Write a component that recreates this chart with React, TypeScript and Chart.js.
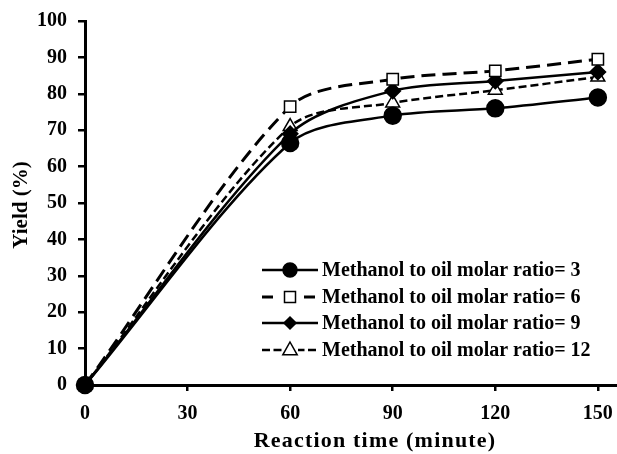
import React, { useEffect, useRef } from "react";
import { Chart, registerables } from "chart.js";

Chart.register(...registerables);

const times = [0, 60, 90, 120, 150];
const ratio3 = [0, 66.5, 74, 76, 79];
const ratio6 = [0, 76.5, 84, 86.3, 89.5];
const ratio9 = [0, 69, 80.8, 83.5, 86];
const ratio12 = [0, 71, 77.5, 81, 84.6];
const seriesLabels = [
  "Methanol to oil molar ratio= 3",
  "Methanol to oil molar ratio= 6",
  "Methanol to oil molar ratio= 9",
  "Methanol to oil molar ratio= 12",
];
const yTicks = [0, 10, 20, 30, 40, 50, 60, 70, 80, 90, 100];
const xTicks = [0, 30, 60, 90, 120, 150];
const xTitle = "Reaction time (minute)";
const yTitle = "Yield (%)";

const SERIF = "'Liberation Serif', 'Times New Roman', serif";

function drawMarker(ctx: CanvasRenderingContext2D, style: string, r: number, x: number, y: number, fill: string) {
  ctx.save();
  ctx.beginPath();
  ctx.setLineDash([]);
  ctx.lineWidth = 1.5;
  ctx.strokeStyle = "#000";
  ctx.fillStyle = fill;
  if (style === "circle") {
    ctx.arc(x, y, r, 0, Math.PI * 2);
  } else if (style === "rect") {
    ctx.rect(x - r, y - r, 2 * r, 2 * r);
  } else if (style === "rectRot") {
    ctx.moveTo(x, y - r);
    ctx.lineTo(x + r, y);
    ctx.lineTo(x, y + r);
    ctx.lineTo(x - r, y);
    ctx.closePath();
  } else if (style === "triangle") {
    ctx.moveTo(x, y - r);
    ctx.lineTo(x + r * 0.9, y + r * 0.6);
    ctx.lineTo(x - r * 0.9, y + r * 0.6);
    ctx.closePath();
  }
  ctx.fill();
  ctx.stroke();
  ctx.restore();
}

const legendPlugin = {
  id: "excelLegend",
  afterDraw(chart: any) {
    const ctx = chart.ctx as CanvasRenderingContext2D;
    const rowsY = [270, 297, 323, 350];
    const x1 = 262;
    const x2 = 318;
    chart.data.datasets.forEach((ds: any, i: number) => {
      const y = rowsY[i];
      ctx.save();
      ctx.strokeStyle = "#000";
      ctx.lineWidth = ds.borderWidth;
      ctx.setLineDash(ds.legendDash || []);
      ctx.beginPath();
      ctx.moveTo(x1, y);
      ctx.lineTo(x2, y);
      ctx.stroke();
      ctx.restore();
      if (ds.legendGap > 0) {
        ctx.save();
        ctx.fillStyle = "#fff";
        ctx.fillRect((x1 + x2) / 2 - ds.legendGap, y - 8, ds.legendGap * 2, 16);
        ctx.restore();
      }
      drawMarker(ctx, ds.pointStyle, ds.legendRadius, (x1 + x2) / 2, y, ds.pointBackgroundColor);
      ctx.save();
      ctx.fillStyle = "#000";
      ctx.font = `bold 20px ${SERIF}`;
      ctx.textBaseline = "middle";
      ctx.textAlign = "left";
      ctx.fillText(ds.label, 322, y + 1);
      ctx.restore();
    });

    // axis titles
    const ca = chart.chartArea;
    ctx.save();
    ctx.fillStyle = "#000";
    ctx.font = `bold 22px ${SERIF}`;
    (ctx as any).letterSpacing = "1.2px";
    ctx.textAlign = "center";
    ctx.textBaseline = "middle";
    ctx.fillText(xTitle, 375, ca.bottom + 56);
    ctx.restore();

    ctx.save();
    ctx.fillStyle = "#000";
    ctx.font = `bold 21px ${SERIF}`;
    ctx.textAlign = "center";
    ctx.textBaseline = "middle";
    ctx.translate(22, (ca.top + ca.bottom) / 2 + 2);
    ctx.rotate(-Math.PI / 2);
    ctx.fillText(yTitle, 0, 0);
    ctx.restore();
  },
};

export default function App() {
  const ref = useRef<HTMLCanvasElement>(null);

  useEffect(() => {
    if (!ref.current) return;
    const mk = (vals: number[]) => times.map((t, i) => ({ x: t, y: vals[i] }));
    const chart = new Chart(ref.current, {
      type: "line",
      data: {
        datasets: [
          {
            label: seriesLabels[0],
            data: mk(ratio3),
            borderColor: "#000",
            borderWidth: 2.5,
            pointStyle: "circle",
            pointRadius: 8,
            pointBackgroundColor: "#000",
            pointBorderColor: "#000",
            tension: 0.3,
            clip: false,
            legendRadius: 7,
            legendGap: 0,
          } as any,
          {
            label: seriesLabels[1],
            data: mk(ratio6),
            borderColor: "#000",
            borderWidth: 3,
            borderDash: [14, 7],
            legendDash: [11, 10],
            pointStyle: "rect",
            pointRadius: 8,
            pointBackgroundColor: "#fff",
            pointBorderColor: "#000",
            pointBorderWidth: 1.5,
            tension: 0.3,
            clip: false,
            legendRadius: 5.5,
            legendGap: 9,
          } as any,
          {
            label: seriesLabels[2],
            data: mk(ratio9),
            borderColor: "#000",
            borderWidth: 2.5,
            pointStyle: "rectRot",
            pointRadius: 7,
            pointBackgroundColor: "#000",
            pointBorderColor: "#000",
            tension: 0.3,
            clip: false,
            legendRadius: 6,
            legendGap: 0,
          } as any,
          {
            label: seriesLabels[3],
            data: mk(ratio12),
            borderColor: "#000",
            borderWidth: 2.5,
            borderDash: [8, 4],
            legendDash: [8, 3.5],
            pointStyle: "triangle",
            pointRadius: 8,
            pointBackgroundColor: "#fff",
            pointBorderColor: "#000",
            pointBorderWidth: 1.5,
            tension: 0.3,
            clip: false,
            legendRadius: 8,
            legendGap: 8,
          } as any,
        ],
      },
      options: {
        responsive: false,
        animation: false,
        devicePixelRatio: 1,
        layout: { autoPadding: false, padding: { left: 0, right: 0, top: 21, bottom: 0 } },
        plugins: { legend: { display: false }, tooltip: { enabled: false } },
        scales: {
          x: {
            type: "linear",
            min: 0,
            max: 155.6,
            afterBuildTicks: (scale: any) => {
              scale.ticks = xTicks.map((v) => ({ value: v }));
            },
            afterFit: (scale: any) => {
              scale.height = 69;
              scale.paddingRight = 0;
              scale.paddingLeft = 0;
            },
            border: { color: "#000", width: 3 },
            grid: { drawOnChartArea: false, drawTicks: true, tickLength: 6, color: "#000", lineWidth: 2.5 },
            ticks: {
              color: "#000",
              font: { family: SERIF, size: 20, weight: "bold" },
              padding: 11,
              maxRotation: 0,
              autoSkip: false,
            },
          },
          y: {
            min: 0,
            max: 100,
            afterBuildTicks: (scale: any) => {
              scale.ticks = yTicks.map((v) => ({ value: v }));
            },
            afterFit: (scale: any) => {
              scale.width = 85;
              scale.paddingTop = 0;
              scale.paddingBottom = 0;
            },
            border: { color: "#000", width: 3 },
            grid: { drawOnChartArea: false, drawTicks: true, tickLength: 7, color: "#000", lineWidth: 2.5 },
            ticks: {
              color: "#000",
              font: { family: SERIF, size: 20, weight: "bold" },
              padding: 11,
              autoSkip: false,
            },
          },
        },
      },
      plugins: [legendPlugin],
    });
    return () => chart.destroy();
  }, []);

  return (
    <div style={{ position: "fixed", left: 0, top: 0, width: 617, height: 454, background: "#fff" }}>
      <canvas ref={ref} width={617} height={454} style={{ width: 617, height: 454 }} />
    </div>
  );
}
